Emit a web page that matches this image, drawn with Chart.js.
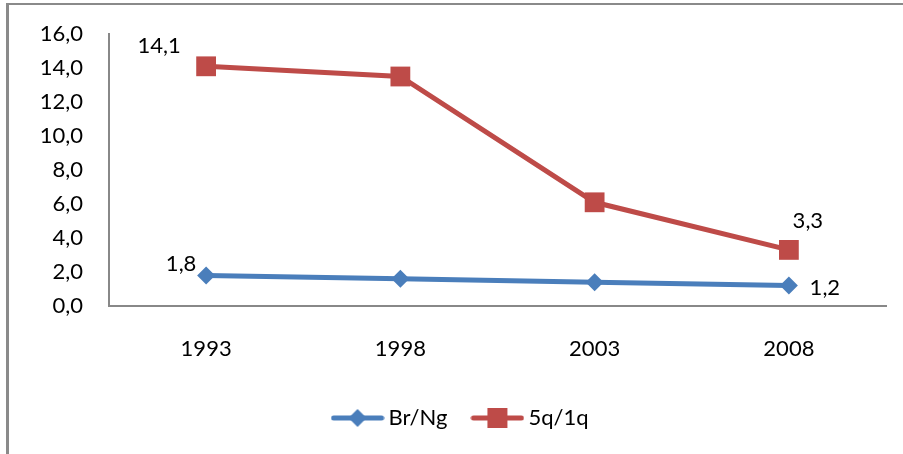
<!DOCTYPE html>
<html>
<head>
<meta charset="utf-8">
<script src="https://cdn.jsdelivr.net/npm/chart.js@4/dist/chart.umd.min.js"></script>
<style>
  html, body { margin: 0; padding: 0; background: #fff; }
  #wrap { position: relative; width: 903px; height: 454px; overflow: hidden; }
  #frame { position: absolute; left: 6px; top: 3px; width: 1000px; height: 1000px;
           border-top: 2px solid #8a8a8a; border-left: 3px solid #8a8a8a; box-sizing: border-box; }
  #chart { position: absolute; left: 0; top: 0; }
</style>
</head>
<body>
<div id="wrap">
  <div id="frame"></div>
  <canvas id="chart" width="903" height="454"></canvas>
</div>
<script>
// Years on the horizontal axis
const years = ['1993', '1998', '2003', '2008'];
// Series values
const brNg = [1.8, 1.6, 1.4, 1.2];
const q5q1 = [14.1, 13.5, 6.1, 3.3];
// Vertical axis range
const yMin = 0;
const yMax = 16;
const yStep = 2;

const BLUE = '#4A7EBB';
const RED = '#BE4B48';
const FONT = 'Lato, "Open Sans", sans-serif';
const FONT_SIZE = 22;

const fmt = v => v.toFixed(1).replace('.', ',');

// Legend swatch: a short line with the series marker in the middle
function swatch(color, shape) {
  const c = document.createElement('canvas');
  c.width = 54; c.height = 22;
  const g = c.getContext('2d');
  g.strokeStyle = color; g.lineWidth = 5; g.lineCap = 'round';
  g.beginPath(); g.moveTo(3, 11); g.lineTo(51, 11); g.stroke();
  g.fillStyle = color;
  g.beginPath();
  if (shape === 'diamond') {
    g.moveTo(27, 2); g.lineTo(36, 11); g.lineTo(27, 20); g.lineTo(18, 11);
  } else {
    g.rect(17, 1, 20, 20);
  }
  g.closePath(); g.fill();
  return c;
}
const blueSwatch = swatch(BLUE, 'diamond');
const redSwatch = swatch(RED, 'square');

// Value labels beside the first and last point of each series
const endLabels = {
  id: 'endLabels',
  afterDatasetsDraw(chart, args, opts) {
    const ctx = chart.ctx;
    ctx.save();
    ctx.font = FONT_SIZE + 'px ' + FONT;
    ctx.fillStyle = '#000';
    ctx.textAlign = 'center';
    ctx.textBaseline = 'middle';
    chart.data.datasets.forEach((ds, di) => {
      const meta = chart.getDatasetMeta(di);
      const off = opts.offsets[di];
      [0, ds.data.length - 1].forEach((idx, k) => {
        const el = meta.data[idx];
        const o = off[k];
        ctx.fillText(fmt(ds.data[idx]), el.x + o[0], el.y + o[1]);
      });
    });
    ctx.restore();
  }
};

new Chart(document.getElementById('chart'), {
  type: 'line',
  data: {
    labels: years,
    datasets: [
      {
        label: 'Br/Ng', data: brNg,
        borderColor: BLUE, backgroundColor: BLUE, borderWidth: 5,
        pointStyle: 'rectRot', pointRadius: 9, pointHoverRadius: 9,
        pointBackgroundColor: BLUE, pointBorderColor: BLUE, pointBorderWidth: 0,
        tension: 0
      },
      {
        label: '5q/1q', data: q5q1,
        borderColor: RED, backgroundColor: RED, borderWidth: 5,
        pointStyle: 'rect', pointRadius: 14, pointHoverRadius: 14,
        pointBackgroundColor: RED, pointBorderColor: RED, pointBorderWidth: 0,
        tension: 0
      }
    ]
  },
  options: {
    responsive: false,
    animation: false,
    events: [],
    layout: { padding: { left: 40, right: 17, top: 34, bottom: 15 } },
    scales: {
      x: {
        type: 'category',
        offset: true,
        grid: { display: false, drawTicks: false },
        border: { display: true, color: '#888', width: 2 },
        ticks: { color: '#000', font: { family: FONT, size: FONT_SIZE }, padding: 30 },
        afterFit(s) { s.height = 71; s.paddingLeft = 0; s.paddingRight = 0; }
      },
      y: {
        min: yMin, max: yMax,
        grid: { display: false, drawTicks: false },
        border: { display: true, color: '#888', width: 2 },
        ticks: {
          stepSize: yStep, color: '#000', padding: 26,
          font: { family: FONT, size: FONT_SIZE },
          callback: v => fmt(v)
        },
        afterFit(s) { s.width = 69; s.paddingTop = 0; s.paddingBottom = 0; }
      }
    },
    plugins: {
      tooltip: { enabled: false },
      legend: {
        position: 'bottom',
        labels: {
          usePointStyle: true,
          pointStyleWidth: 40,
          boxHeight: 22,
          padding: 30,
          color: '#000',
          font: { family: FONT, size: FONT_SIZE },
          generateLabels(chart) {
            return chart.data.datasets.map((ds, i) => ({
              text: ds.label,
              pointStyle: i === 0 ? blueSwatch : redSwatch,
              fillStyle: ds.borderColor, strokeStyle: ds.borderColor,
              lineWidth: 0, hidden: false, datasetIndex: i, fontColor: '#000'
            }));
          }
        }
      },
      endLabels: {
        offsets: [
          [[-25, -11], [36, 2]],
          [[-47, -20], [19, -29]]
        ]
      }
    }
  },
  plugins: [endLabels]
});
</script>
</body>
</html>
